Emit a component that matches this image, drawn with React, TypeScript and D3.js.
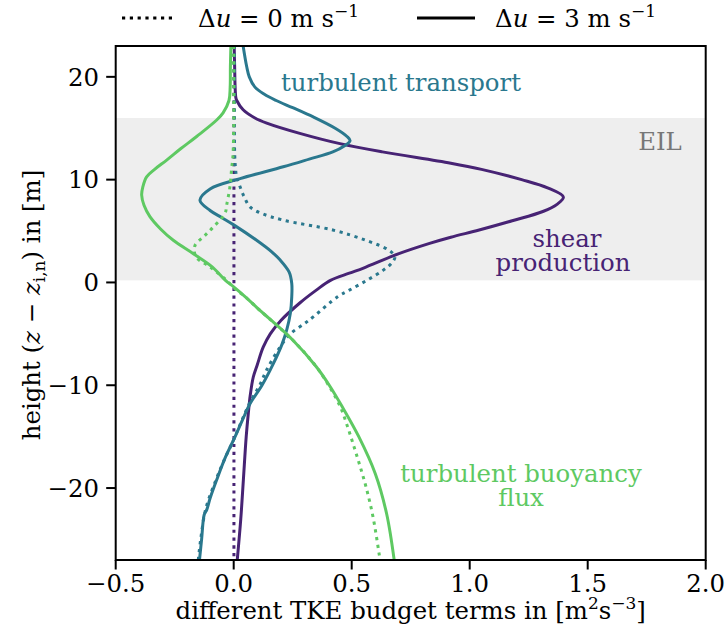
import React from "react";
import * as d3 from "d3";

// ---------- data ----------
// shear production, Δu = 3 m/s (solid)
const Z_SHEAR_3 = [23, 21, 19, 18, 17.7, 16.8, 16, 15.5, 14.5, 13.5, 12.7, 11.6, 11, 10, 9.2, 8.3, 7.6, 6.9, 6, 5.1, 4.4, 3.8, 2.8, 1.4, 0.9, 0.2, -0.75, -2, -3.7, -5, -6.3, -8, -9.2, -11, -12.7, -15, -19.2, -23, -27];
const V_SHEAR_3 = [0.002, 0.004, 0.006, 0.009, 0.013, 0.04, 0.09, 0.14, 0.28, 0.45, 0.63, 0.92, 1.05, 1.22, 1.33, 1.397, 1.37, 1.31, 1.18, 1.04, 0.92, 0.83, 0.7, 0.55, 0.49, 0.41, 0.35, 0.28, 0.2, 0.155, 0.125, 0.1, 0.083, 0.07, 0.062, 0.053, 0.041, 0.03, 0.015];
// shear production, Δu = 0 m/s (dotted)
const Z_SHEAR_0 = [23, 10, 0, -10, -20, -27];
const V_SHEAR_0 = [0.001, 0.001, 0.001, 0.001, 0.001, 0.001];

// turbulent transport, Δu = 3 m/s (solid)
const Z_TRANS_3 = [23, 21, 20, 19, 18.3, 17.7, 17, 16.1, 15, 14.2, 13.8, 13.3, 12.7, 12, 11.25, 10.1, 9.1, 8, 7, 6.3, 5.6, 4.1, 3, 2.2, 1, -0.1, -1.4, -3, -4.6, -6, -7.9, -10, -11.8, -13.5, -15.3, -17, -19.2, -21, -22.1, -22.6, -25, -27];
const V_TRANS_3 = [0.04, 0.055, 0.066, 0.09, 0.13, 0.18, 0.25, 0.337, 0.43, 0.48, 0.493, 0.47, 0.42, 0.32, 0.21, 0.027, -0.1, -0.143, -0.1, -0.05, 0.0, 0.097, 0.16, 0.196, 0.235, 0.246, 0.246, 0.24, 0.225, 0.205, 0.168, 0.12, 0.069, 0.035, 0.0, -0.035, -0.072, -0.1, -0.114, -0.125, -0.136, -0.145];
// turbulent transport, Δu = 0 m/s (dotted)
const Z_TRANS_0 = [23, 18, 14, 12, 11, 10.3, 9.3, 8.3, 7.35, 6.7, 6.06, 5.1, 4.1, 3.1, 2.5, 1.9, 1.2, 0.2, -0.75, -1.4, -3.35, -4, -5, -6.3, -8.5, -10, -11.8, -13.5, -15.3, -17, -19.2, -22, -25, -27];
const V_TRANS_0 = [0.003, 0.003, 0.003, 0.005, 0.008, 0.012, 0.027, 0.045, 0.069, 0.12, 0.21, 0.42, 0.56, 0.66, 0.683, 0.67, 0.634, 0.564, 0.49, 0.44, 0.337, 0.3, 0.24, 0.196, 0.14, 0.11, 0.066, 0.033, 0.0, -0.035, -0.075, -0.118, -0.14, -0.15];

// turbulent buoyancy flux, Δu = 3 m/s (solid)
const Z_BUOY_3 = [23, 21, 19, 17.7, 16.5, 15.8, 14.2, 13, 11.9, 11, 10.27, 9.3, 8.5, 7.5, 6.4, 5.2, 4.1, 2.8, 1.5, 0.2, -0.43, -1.5, -2.7, -3.5, -5.6, -8.2, -10, -12.1, -15, -18.6, -22.5, -27];
const V_BUOY_3 = [-0.012, -0.014, -0.015, -0.02, -0.045, -0.072, -0.157, -0.225, -0.284, -0.335, -0.369, -0.385, -0.39, -0.38, -0.355, -0.31, -0.256, -0.171, -0.09, -0.035, 0.0, 0.054, 0.11, 0.15, 0.25, 0.35, 0.405, 0.46, 0.53, 0.6, 0.648, 0.68];
// turbulent buoyancy flux, Δu = 0 m/s (dotted)
const Z_BUOY_0 = [23, 15, 12, 11.25, 9.3, 7.5, 6.7, 5.4, 4.5, 3.6, 2.5, 1.5, 0.2, -0.5, -1.5, -2.7, -3.5, -5.6, -8.2, -10, -12, -14, -16, -18, -20, -23, -27];
const V_BUOY_0 = [0.0, 0.0, -0.004, -0.008, -0.016, -0.03, -0.037, -0.086, -0.125, -0.164, -0.16, -0.1, -0.03, 0.0, 0.054, 0.11, 0.15, 0.25, 0.35, 0.402, 0.45, 0.482, 0.51, 0.537, 0.562, 0.592, 0.62];

const X_TICKS = [-0.5, 0.0, 0.5, 1.0, 1.5, 2.0];
const Y_TICKS = [20, 10, 0, -10, -20];
const EIL_RANGE = [0.2, 16];

const C_SHEAR = "#472374";
const C_TRANS = "#2a788e";
const C_BUOY = "#5ec962";

const W = 727;
const H = 639;
const M = { left: 115.7, right: 705.7, top: 46, bottom: 560 };
const FONT = "'DejaVu Serif', 'Liberation Serif', serif";

const x = d3.scaleLinear().domain([-0.5, 2.0]).range([M.left, M.right]);
const y = d3.scaleLinear().domain([-27, 23]).range([M.bottom, M.top]);

function path(zs: number[], vs: number[]) {
  const pts: [number, number][] = zs.map((z, i) => [vs[i], z]);
  return d3
    .line<[number, number]>()
    .x((d) => x(d[0]))
    .y((d) => y(d[1]))
    .curve(d3.curveCatmullRom.alpha(0.5))(pts) as string;
}

const fmt = (v: number) => d3.format(".1f")(v).replace("-", "\u2212");
const fmtY = (v: number) => String(v).replace("-", "\u2212");

export default function App() {
  const series = [
    { zs: Z_SHEAR_3, vs: V_SHEAR_3, c: C_SHEAR, dot: false },
    { zs: Z_SHEAR_0, vs: V_SHEAR_0, c: C_SHEAR, dot: true },
    { zs: Z_TRANS_3, vs: V_TRANS_3, c: C_TRANS, dot: false },
    { zs: Z_TRANS_0, vs: V_TRANS_0, c: C_TRANS, dot: true },
    { zs: Z_BUOY_3, vs: V_BUOY_3, c: C_BUOY, dot: false },
    { zs: Z_BUOY_0, vs: V_BUOY_0, c: C_BUOY, dot: true },
  ];
  const fs = 24.4;
  const sup = 17;
  return (
    <svg
      width={W}
      height={H}
      style={{ position: "absolute", left: 0, top: 0, background: "#fff", fontFamily: FONT }}
    >
      <style>{`text { font-family: ${FONT}; }`}</style>
      <defs>
        <clipPath id="plotclip">
          <rect x={M.left} y={M.top} width={M.right - M.left} height={M.bottom - M.top} />
        </clipPath>
      </defs>
      {/* EIL band */}
      <rect
        x={M.left}
        y={y(EIL_RANGE[1])}
        width={M.right - M.left}
        height={y(EIL_RANGE[0]) - y(EIL_RANGE[1])}
        fill="#eeeeee"
      />
      <g clipPath="url(#plotclip)">
        {series.map((s, i) => (
          <path
            key={i}
            d={path(s.zs, s.vs)}
            fill="none"
            stroke={s.c}
            strokeWidth={3}
            strokeDasharray={s.dot ? "3.2 4.6" : undefined}
            strokeLinecap="butt"
            strokeLinejoin="round"
          />
        ))}
      </g>
      {/* frame */}
      <rect
        x={M.left}
        y={M.top}
        width={M.right - M.left}
        height={M.bottom - M.top}
        fill="none"
        stroke="#000"
        strokeWidth={2}
      />
      {/* x ticks */}
      {X_TICKS.map((t) => (
        <g key={"x" + t}>
          <line x1={x(t)} x2={x(t)} y1={M.bottom} y2={M.bottom + 9.5} stroke="#000" strokeWidth={2} />
          <text x={x(t)} y={592} textAnchor="middle" fontSize={fs}>
            {fmt(t)}
          </text>
        </g>
      ))}
      {/* y ticks */}
      {Y_TICKS.map((t) => (
        <g key={"y" + t}>
          <line x1={M.left - 9.5} x2={M.left} y1={y(t)} y2={y(t)} stroke="#000" strokeWidth={2} />
          <text x={99} y={y(t)} dy="0.36em" textAnchor="end" fontSize={fs}>
            {fmtY(t)}
          </text>
        </g>
      ))}
      {/* axis labels */}
      <text x={(M.left + M.right) / 2} y={619} textAnchor="middle" fontSize={fs}>
        different TKE budget terms in [m
        <tspan fontSize={sup} dy={-10}>2</tspan>
        <tspan dy={10}>s</tspan>
        <tspan fontSize={sup} dy={-10}>{"\u22123"}</tspan>
        <tspan dy={10}>]</tspan>
      </text>
      <text
        transform={`translate(40, ${(M.top + M.bottom) / 2 + 2}) rotate(-90)`}
        textAnchor="middle"
        fontSize={fs}
      >
        height (<tspan fontStyle="italic">z</tspan> {"\u2212"} <tspan fontStyle="italic">z</tspan>
        <tspan fontSize={sup} dy={5}>i,n</tspan>
        <tspan dy={-5}>) in [m]</tspan>
      </text>
      {/* annotations */}
      <text x={281} y={91} fontSize={fs} fill={C_TRANS}>
        turbulent transport
      </text>
      <text x={660} y={150} fontSize={fs} fill="#777777" textAnchor="middle">
        EIL
      </text>
      <text x={567} y={247} fontSize={fs} fill={C_SHEAR} textAnchor="middle">
        shear
      </text>
      <text x={563} y={271} fontSize={fs} fill={C_SHEAR} textAnchor="middle">
        production
      </text>
      <text x={521} y={482} fontSize={fs} fill={C_BUOY} textAnchor="middle">
        turbulent buoyancy
      </text>
      <text x={521} y={506} fontSize={fs} fill={C_BUOY} textAnchor="middle">
        flux
      </text>
      {/* legend */}
      <line x1={122} x2={172} y1={18} y2={18} stroke="#000" strokeWidth={3} strokeDasharray="3.2 4.6" />
      <text x={198} y={27} fontSize={fs}>
        {"\u0394"}
        <tspan fontStyle="italic">u</tspan> = 0 m s
        <tspan fontSize={sup} dy={-10}>{"\u22121"}</tspan>
      </text>
      <line x1={417} x2={475} y1={18} y2={18} stroke="#000" strokeWidth={3} />
      <text x={495} y={27} fontSize={fs}>
        {"\u0394"}
        <tspan fontStyle="italic">u</tspan> = 3 m s
        <tspan fontSize={sup} dy={-10}>{"\u22121"}</tspan>
      </text>
    </svg>
  );
}
